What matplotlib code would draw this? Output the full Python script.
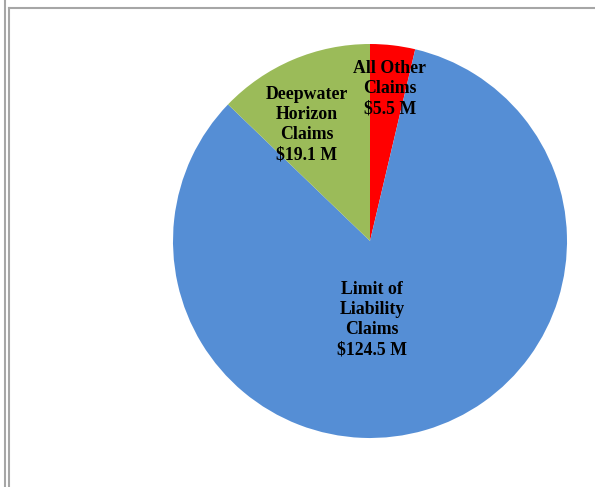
import matplotlib.pyplot as plt
from matplotlib.lines import Line2D

labels = ["All Other\nClaims\n$5.5 M", "Limit of\nLiability\nClaims\n$124.5 M", "Deepwater\nHorizon\nClaims\n$19.1 M"]
values = [5.5, 124.5, 19.1]
colors = ["#FF0000", "#558ED5", "#9BBB59"]
label_pos = [(0.10, 0.775), (0.01, -0.40), (-0.32, 0.59)]

W, H = 595, 487
fig = plt.figure(figsize=(W / 100, H / 100), dpi=100)

cx, cy, r = 370, 241, 197
ax = fig.add_axes([(cx - r) / W, (H - cy - r) / H, 2 * r / W, 2 * r / H])
ax.pie(values, colors=colors, startangle=90, counterclock=False,
       wedgeprops=dict(linewidth=0))
ax.set_xlim(-1, 1)
ax.set_ylim(-1, 1)
ax.set_aspect("equal")
ax.axis("off")

for text, (x, y) in zip(labels, label_pos):
    ax.text(x, y, text, ha="center", va="center", fontsize=12.8,
            fontweight="bold", family="Liberation Serif", linespacing=1.25)

# frame lines around the chart area
def px_line(x0, y0, x1, y1, **kw):
    fig.add_artist(Line2D([x0 / W, x1 / W], [1 - y0 / H, 1 - y1 / H],
                          transform=fig.transFigure, **kw))

px_line(5, 0, 5, H, color="#A6A6A6", linewidth=1.5)
px_line(8.5, 7.5, 8.5, H, color="#A6A6A6", linewidth=1.5)
px_line(8.5, 7.5, W, 7.5, color="#A6A6A6", linewidth=1.5)

fig.savefig("out.png", dpi=100)
